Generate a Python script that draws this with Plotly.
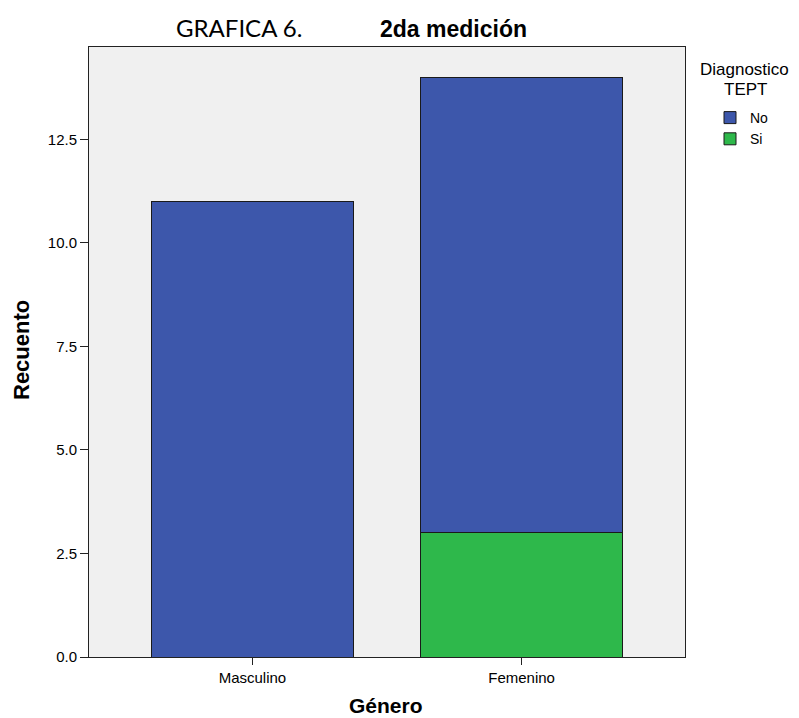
import plotly.graph_objects as go

categories = ["Masculino", "Femenino"]
series_names = ["No", "Si"]
no_values = [11, 11]
si_values = [0, 3]
y_ticks = [0, 2.5, 5.0, 7.5, 10.0, 12.5]

colors = {"No": "#3d57ab", "Si": "#2eb84b"}

OFF = 7  # page body margin
# plot frame in reference pixel coordinates
X0, X1, Y0, Y1 = 88, 684, 46, 656
W, H = 799, 718
pw = X1 - X0
ph = Y1 - Y0
L, T = X0 - OFF, Y0 - OFF
R = W - L - pw
B = H - T - ph

def px(x):
    return (x - X0) / pw

def py(y):
    return (Y1 - y) / ph

fig = go.Figure()
fig.add_trace(go.Bar(x=categories, y=si_values, name="Si", marker=dict(color=colors["Si"], line=dict(color="#1a1a1a", width=1)), width=0.75))
fig.add_trace(go.Bar(x=categories, y=no_values, name="No", marker=dict(color=colors["No"], line=dict(color="#1a1a1a", width=1)), width=0.75))

fig.update_layout(
    barmode="stack",
    width=W, height=H,
    margin=dict(l=L, r=R, t=T, b=B),
    paper_bgcolor="white",
    plot_bgcolor="#f0f0f0",
    font=dict(family="Liberation Sans, Arial", size=15, color="#000"),
    showlegend=True,
    legend=dict(x=px(709), y=py(101), xanchor="left", yanchor="top", traceorder="reversed",
                bgcolor="rgba(0,0,0,0)", font=dict(size=14), itemwidth=30, tracegroupgap=0),
)
fig.update_xaxes(range=[-0.607, 1.607], showline=True, linecolor="#222", linewidth=1, mirror=True,
                 ticks="outside", ticklen=7, tickcolor="#222", showgrid=False, zeroline=False,
                 tickfont=dict(size=15))
fig.update_yaxes(range=[0, 14.73], showline=True, linecolor="#222", linewidth=1, mirror=True,
                 ticks="outside", ticklen=8, tickcolor="#222", tickvals=y_ticks,
                 ticktext=[f"{v:.1f}" for v in y_ticks], showgrid=False, zeroline=False,
                 tickfont=dict(size=15))

def ann(text, x, y, size, family="Liberation Sans, Arial", angle=0):
    fig.add_annotation(text=text, x=px(x), y=py(y), xref="paper", yref="paper",
                       xanchor="center", yanchor="middle", showarrow=False, textangle=angle,
                       align="center", font=dict(family=family, size=size))

ann("<b>2da medición</b>", 452, 28, 23)
ann("GRAFICA 6.", 238, 27, 24, family="Lato, Open Sans, Liberation Sans")
ann("Diagnostico", 743, 69, 17)
ann("TEPT", 744, 88, 17)
ann("<b>Recuento</b>", 20, 349, 22, angle=-90)
ann("<b>Género</b>", 385, 705, 21)

fig.write_html("out.html")
